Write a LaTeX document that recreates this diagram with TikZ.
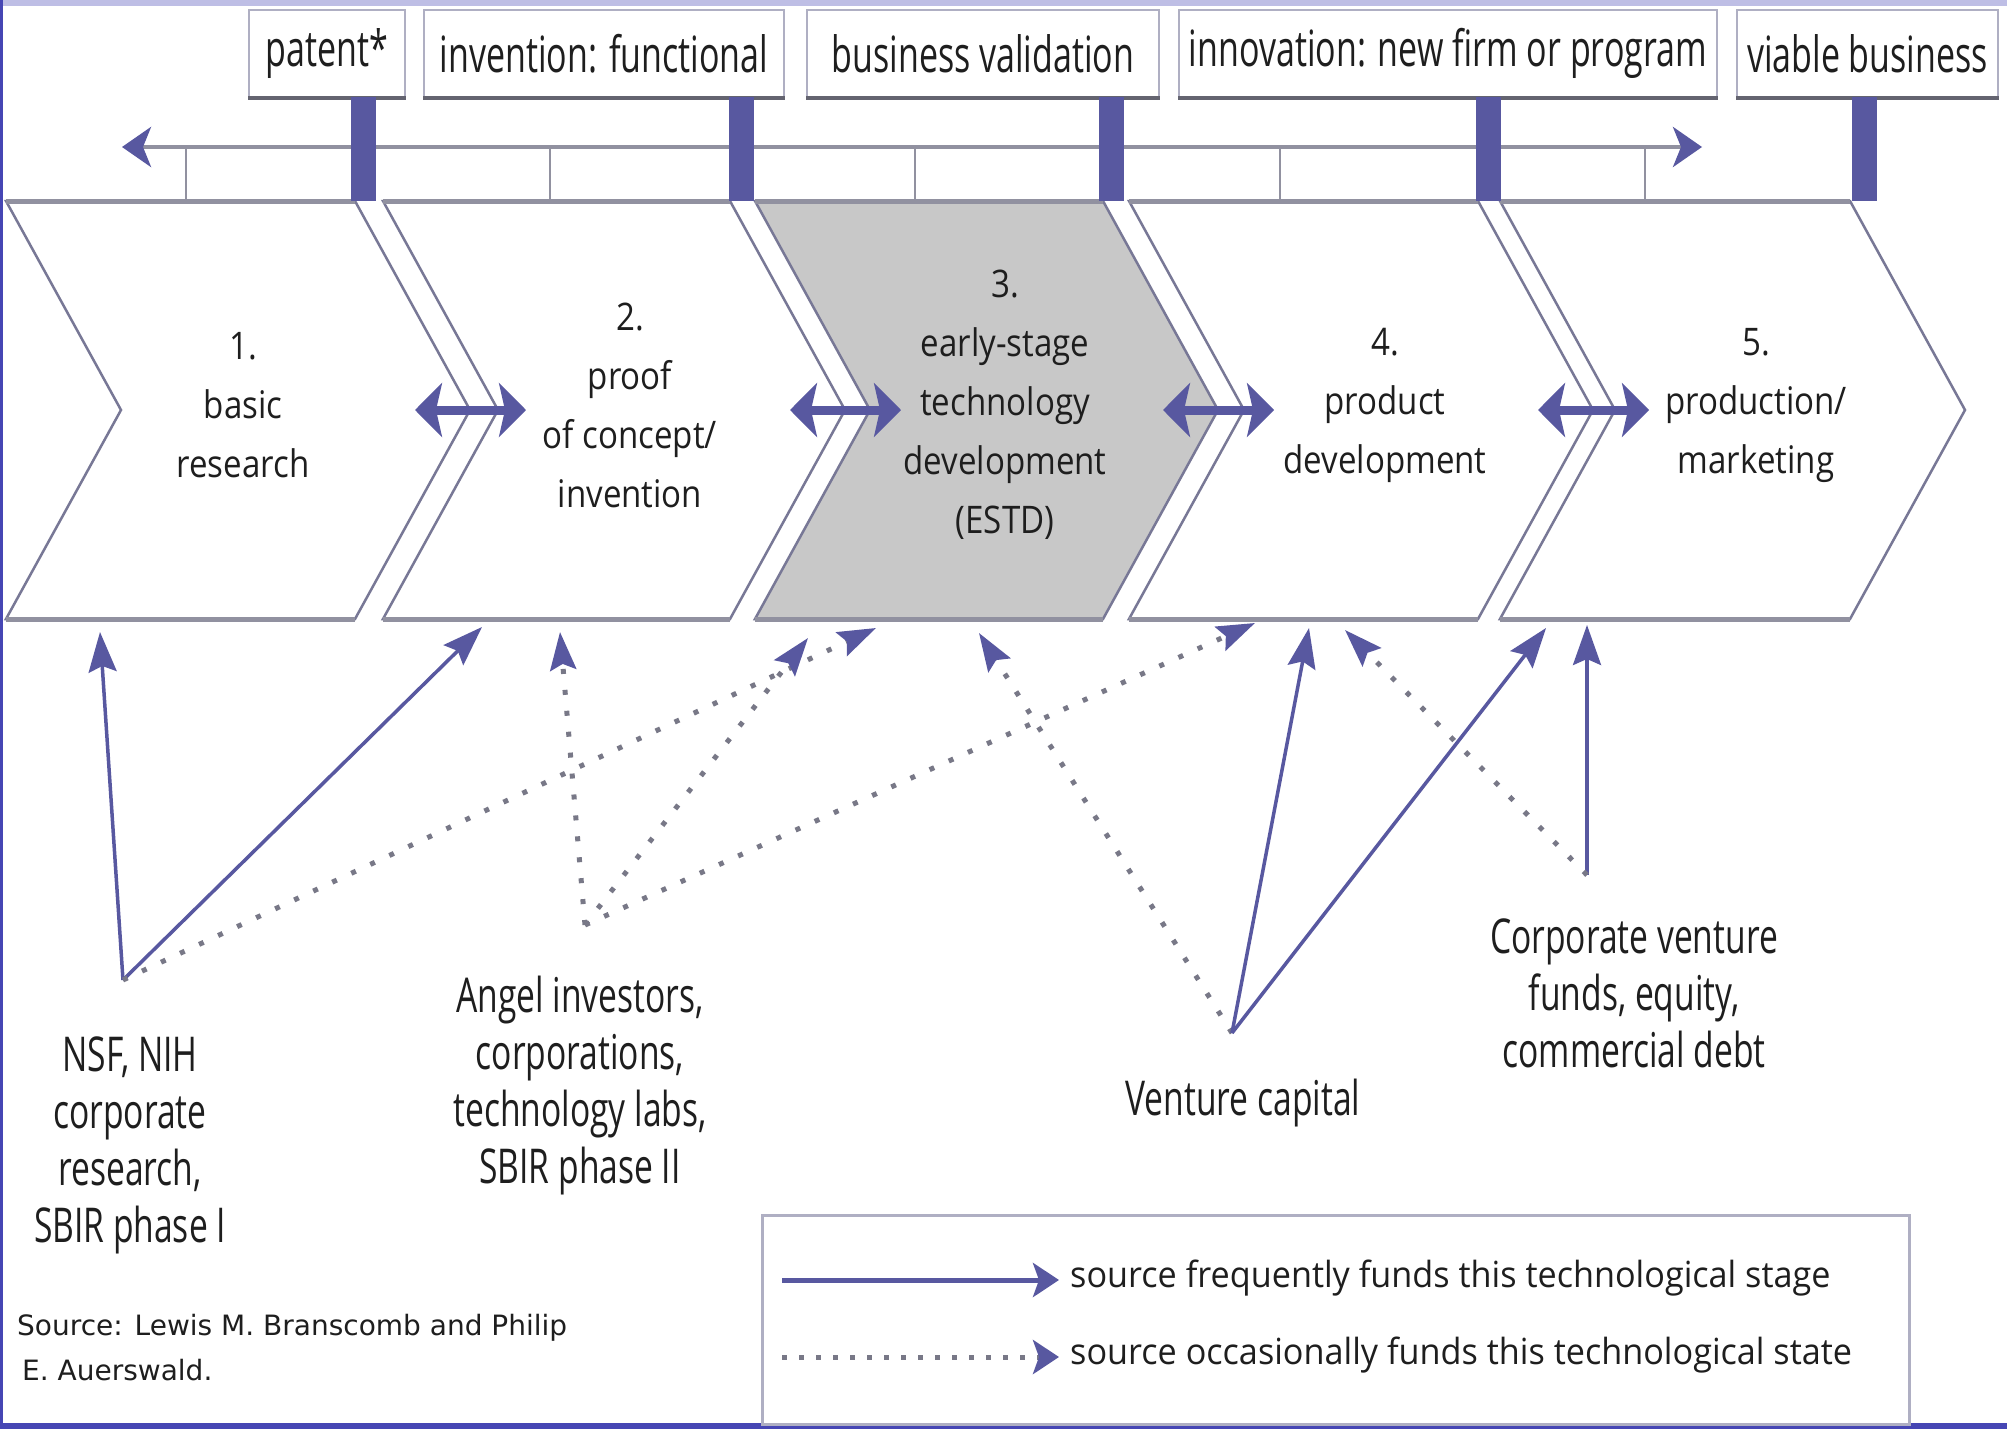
\documentclass[tikz,border=0pt]{standalone}
\usepackage{fontspec}
\setmainfont{Open Sans}
\newfontfamily\boxfont[FakeStretch=0.68]{Open Sans}
\newfontfamily\stagefont[FakeStretch=0.87]{Open Sans}
\newfontfamily\srcfont[FakeStretch=0.70]{Open Sans}
\newfontfamily\legfont[FakeStretch=0.95]{Open Sans}
\newfontfamily\citefont{DejaVu Sans}
\usetikzlibrary{arrows.meta}
\definecolor{fund}{RGB}{88,88,160}
\definecolor{dotc}{RGB}{120,120,135}
\definecolor{edge}{RGB}{120,120,150}
\definecolor{edgeh}{RGB}{145,145,160}
\definecolor{boxedge}{RGB}{175,175,195}
\definecolor{boxbot}{RGB}{100,100,112}
\definecolor{frame}{RGB}{70,70,180}
\definecolor{txt}{RGB}{30,30,30}
\definecolor{estd}{RGB}{200,200,200}
\tikzset{
  milebox/.style={draw=boxedge, line width=2pt, fill=white, minimum height=87pt, inner sep=0pt,
    font=\boxfont\fontsize{50}{60}\selectfont, text=txt},
  stagelab/.style={font=\stagefont\fontsize{38}{59}\selectfont, align=center, text=txt, inner sep=0pt},
  srclab/.style={font=\srcfont\fontsize{48}{57}\selectfont, align=center, text=txt, inner sep=0pt},
  legtxt/.style={font=\legfont\fontsize{36}{40}\selectfont, text=txt, anchor=west, inner sep=0pt},
  chev/.style={draw=edge, line width=2.5pt, line join=miter},
  hedge/.style={draw=edgeh, line width=5pt},
  tick/.style={draw=edgeh, line width=2.5pt},
  timeline/.style={draw=edgeh, line width=4.5pt,
    {Stealth[length=29pt, width=40pt, inset=8pt, color=fund]}-{Stealth[length=29pt, width=40pt, inset=8pt, color=fund]}},
  dblarrow/.style={draw=fund, line width=9pt,
    {Stealth[length=27pt, width=54pt, inset=6pt]}-{Stealth[length=27pt, width=54pt, inset=6pt]}},
  fundline/.style={draw=fund, line width=3.5pt, -{Stealth[length=40pt, width=28pt, inset=6pt]}},
  dotline/.style={draw=dotc, line width=5pt, dash pattern=on 5pt off 16pt,
    -{Stealth[length=38pt, width=26pt, inset=6pt, color=fund]}},
  legsolid/.style={draw=fund, line width=5pt, -{Stealth[length=26pt, width=34pt, inset=6pt]}},
  legdot/.style={draw=dotc, line width=5pt, dash pattern=on 5pt off 12pt,
    -{Stealth[length=26pt, width=34pt, inset=6pt, color=fund]}},
}
\begin{document}
\begin{tikzpicture}[x=1pt, y=-1pt]
\useasboundingbox (0,0) rectangle (2007,1429);
\fill[white] (0,0) rectangle (2007,1429);
% frame
\shade[left color=frame!35, middle color=frame, right color=frame!35] (0,0) rectangle (2007,6);
\fill[frame] (0,0) rectangle (3,1429);
\fill[frame] (0,1423) rectangle (2007,1429);

% milestone boxes
\node[milebox, minimum width=156pt] (bpat) at (327,53.5) {patent*};
\node[milebox, minimum width=360pt] (binv) at (604,53.5) {invention: functional};
\node[milebox, minimum width=352pt] (bbus) at (983,53.5) {business validation};
\node[milebox, minimum width=538pt] (binn) at (1448,53.5) {innovation: new firm or program};
\node[milebox, minimum width=261pt] (bvia) at (1867.5,53.5) {viable business};
\foreach \b in {bpat,binv,bbus,binn,bvia}
  \draw[boxbot, line width=4pt] (\b.south west) -- (\b.south east);

% timeline
\coordinate (tlL) at (122,147);
\coordinate (tlR) at (1702,147);
\draw[timeline] (tlL) -- (tlR);
\foreach \x in {186,550,915,1280,1645}
  \draw[tick] (\x,147) -- (\x,201);

% chevrons
\foreach \L/\R/\f in {6/355/white, 383/730/white, 755/1103/estd, 1129/1478/white, 1500/1850/white}{
  \filldraw[chev, fill=\f] (\L,201) -- (\R,201) -- (\R+115,410) -- (\R,619) -- (\L,619) -- (\L+115,410) -- cycle;
  \draw[hedge] (\L,201) -- (\R,201);
  \draw[hedge] (\L,619) -- (\R,619);
}

% milestone bars
\foreach \x in {363,741,1111,1488,1864}
  \fill[fund] (\x-12.5,97) rectangle (\x+12.5,201);

% stage labels
\node[stagelab] (s1) at (243,405) {1.\\basic\\research};
\node[stagelab] (s2) at (630,405) {2.\\proof\\of concept/\\invention};
\node[stagelab] (s3) at (1005,405) {3.\\early-stage\\technology\\development\\(ESTD)};
\node[stagelab] (s4) at (1385,405) {4.\\product\\development};
\node[stagelab] (s5) at (1756,405) {5.\\production/\\marketing};

% double arrows between stages
\foreach \R/\n in {355/a, 730/b, 1103/c, 1478/d}{
  \coordinate (\n l) at (\R+60,410);
  \coordinate (\n r) at (\R+171,410);
  \draw[dblarrow] (\n l) -- (\n r);
}

% entry points at stage bottoms
\coordinate (c1a) at (100,632);
\coordinate (c2a) at (482,627);
\coordinate (c2b) at (560,632);
\coordinate (c3a) at (808,638);
\coordinate (c3b) at (876,628);
\coordinate (c3c) at (979,633);
\coordinate (c4a) at (1255,623);
\coordinate (c4b) at (1309,628);
\coordinate (c4c) at (1345,630);
\coordinate (c5a) at (1546,628);
\coordinate (c5b) at (1587,625);

% funding sources
\coordinate (nsf) at (123,980);
\coordinate (ang) at (585,925);
\coordinate (vc) at (1232,1033);
\coordinate (corp) at (1587,875);

\draw[fundline] (nsf) -- (c1a);
\draw[fundline] (nsf) -- (c2a);
\draw[dotline] (nsf) -- (c3b);
\draw[dotline] (ang) -- (c2b);
\draw[dotline] (ang) -- (c3a);
\draw[dotline] (ang) -- (c4a);
\draw[dotline] (vc) -- (c3c);
\draw[fundline] (vc) -- (c4b);
\draw[fundline] (vc) -- (c5a);
\draw[fundline] (corp) -- (c5b);
\draw[dotline] (corp) -- (c4c);

\node[srclab] (lnsf) at (130,1145) {NSF, NIH\\corporate\\research,\\SBIR phase I};
\node[srclab] (lang) at (580,1086) {Angel investors,\\corporations,\\technology labs,\\SBIR phase II};
\node[srclab] (lvc) at (1243,1103) {Venture capital};
\node[srclab] (lcorp) at (1634,993) {Corporate venture\\funds, equity,\\commercial debt};

% legend
\draw[draw=boxedge, line width=3pt] (762,1215) rectangle (1909,1424);
\coordinate (lg1a) at (782,1280);
\coordinate (lg1b) at (1059,1280);
\coordinate (lg2a) at (782,1357);
\coordinate (lg2b) at (1059,1357);
\draw[legsolid] (lg1a) -- (lg1b);
\draw[legdot] (lg2a) -- (lg2b);
\node[legtxt] (lt1) at (1070,1278) {source frequently funds this technological stage};
\node[legtxt] (lt2) at (1070,1355) {source occasionally funds this technological state};

% source note
\node[anchor=base west, inner sep=0pt, font=\citefont\fontsize{28}{45}\selectfont, text=txt] (src1) at (17,1335) {Source: Lewis M. Branscomb and Philip};
\node[anchor=base west, inner sep=0pt, font=\citefont\fontsize{28}{45}\selectfont, text=txt] (src2) at (22,1380) {E. Auerswald.};
\end{tikzpicture}
\end{document}
